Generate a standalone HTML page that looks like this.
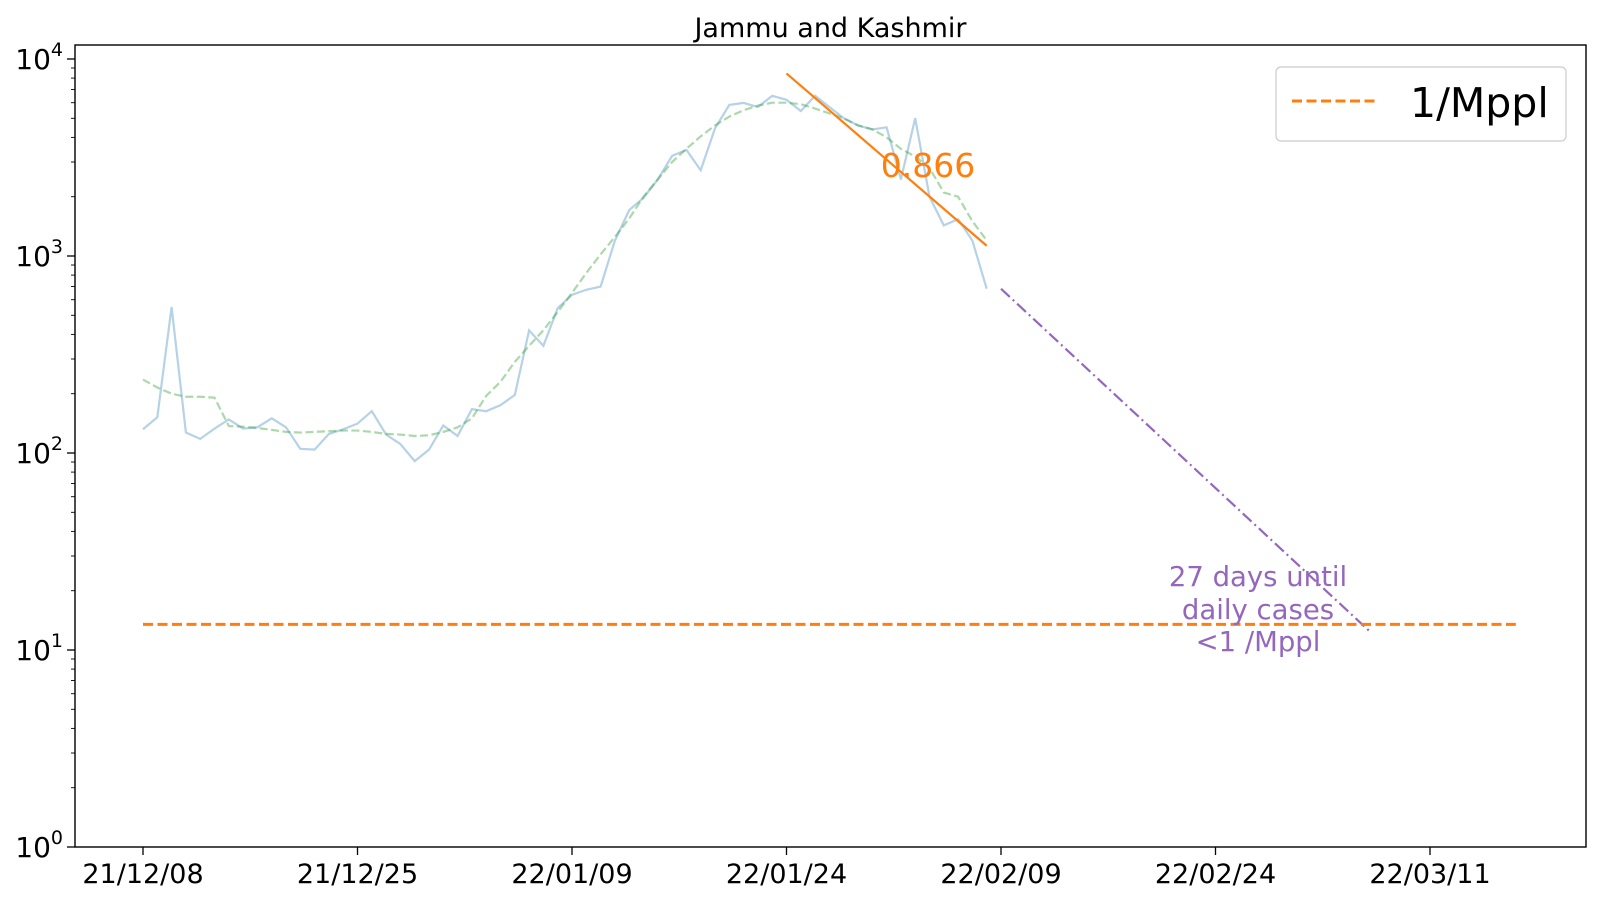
<!DOCTYPE html>
<html><head><meta charset="utf-8"><style>
html,body{margin:0;padding:0;background:#fff;}
svg{display:block;font-family:"DejaVu Sans","Liberation Sans",sans-serif;}
</style></head><body>
<svg id="chart" width="1600" height="900"></svg>
<script>
const tickLabels = ["21/12/08","21/12/25","22/01/09","22/01/24","22/02/09","22/02/24","22/03/11"];
const tickDays = [0,15,30,45,60,75,90];
const dailyCases = [132,152,551,127,118,133,148,133,135,150,135,105,104,125,132,141,163,124,111,91,104,138,122,167,163,175,197,419,350,544,635,674,700,1196,1711,1974,2447,3222,3458,2724,4446,5848,5985,5703,6506,6207,5445,6506,5703,5005,4603,4387,4500,2447,5005,1999,1430,1538,1196,682];
const smoothed = [236,215,200,193,193,191,137,136,134,131,128,127,128,129,130,130,128,125,124,122,123,128,135,150,195,230,290,350,420,520,650,820,1020,1250,1550,2000,2450,3000,3500,4050,4600,5100,5500,5800,6000,6000,5900,5600,5300,5000,4600,4400,4000,3500,3200,2800,2100,2000,1500,1200];
const fitDays = [45,59];
const fitValues = [8450,1127];
const projDays = [60,85.8];
const projValues = [682,12.4];
const thresholdDays = [0,96];
const thresholdValue = 13.5;

const L=75,R=1586,T=45,B=847;
const d0=143, pxDay=14.3;
const x = d => d0 + d*pxDay;
const y = v => B - Math.log10(v)*197;
const svg=document.getElementById('chart');
const NS='http://www.w3.org/2000/svg';
function mk(tag,attrs,parent){const e=document.createElementNS(NS,tag);for(const k in attrs)e.setAttribute(k,attrs[k]);(parent||svg).appendChild(e);return e;}

let t=mk('text',{x:(L+R)/2,y:37,'text-anchor':'middle','font-size':'27'});t.textContent='Jammu and Kashmir';



for(let p=0;p<=4;p++){
  const yy=y(Math.pow(10,p));
  let tk=mk('line',{x1:L-8,x2:L,y1:yy,y2:yy,stroke:'#000','stroke-width':1.3});
  
  
  let lb=mk('text',{x:L-12,y:yy+10,'text-anchor':'end','font-size':'28'});
  lb.innerHTML='10<tspan dy="-13" font-size="19">'+p+'</tspan>';
  
  
  if(p<4)for(let m=2;m<=9;m++){const ym=y(m*Math.pow(10,p));
    let mt=mk('line',{x1:L-4,x2:L,y1:ym,y2:ym,stroke:'#000','stroke-width':0.9});
    
    }
}
tickDays.forEach((d,i)=>{
  const xx=x(d);
  let tk=mk('line',{x1:xx,x2:xx,y1:B,y2:B+8,stroke:'#000','stroke-width':1.3});
  
  
  let lb=mk('text',{x:xx,y:B+36,'text-anchor':'middle','font-size':'27'});lb.textContent=tickLabels[i];
  
  
});

function poly(days,vals,attrs,name){
  const pts=vals.map((v,i)=>x(days[i])+','+y(v)).join(' ');
  const e=mk('polyline',Object.assign({points:pts,fill:'none'},attrs));
  
  
  return e;
}
const idx=dailyCases.map((_,i)=>i);
poly(idx,dailyCases,{stroke:'#1f77b4','stroke-opacity':0.33,'stroke-width':2.2},'daily-cases-line');
poly(idx,smoothed,{stroke:'#2ca02c','stroke-opacity':0.4,'stroke-width':2.2,'stroke-dasharray':'8,3.5'},'smoothed-line');
poly(fitDays,fitValues,{stroke:'#ff7f0e','stroke-width':2.2},'fit-line');
poly(projDays,projValues,{stroke:'#9467bd','stroke-width':2.2,'stroke-dasharray':'12,4,2,4'},'projection-line');
poly(thresholdDays,[thresholdValue,thresholdValue],{stroke:'#ff7f0e','stroke-width':3,'stroke-dasharray':'10,4.5'},'threshold-line');

let fl=mk('text',{x:928,y:177,'text-anchor':'middle','font-size':'33',fill:'#ff7f0e'});fl.textContent='0.866';


[['27 days until',586],['daily cases',619],['<1 /Mppl',651]].forEach(([s,yy])=>{
  let e=mk('text',{x:1258,y:yy,'text-anchor':'middle','font-size':'27.5',fill:'#9467bd'});e.textContent=s;
  
  
});

let fr=mk('rect',{x:L,y:T,width:R-L,height:B-T,fill:'none',stroke:'#000','stroke-width':1.4});



let lg=mk('g',{});


mk('rect',{x:1276,y:67,width:290,height:74,rx:5,fill:'#fff',stroke:'#ccc','stroke-width':1.2},lg);
mk('line',{x1:1292,x2:1378,y1:101,y2:101,stroke:'#ff7f0e','stroke-width':3,'stroke-dasharray':'10,4.5'},lg);
let lt=mk('text',{x:1410,y:117,'font-size':'41'},lg);lt.textContent='1/Mppl';


</script>
</body></html>
